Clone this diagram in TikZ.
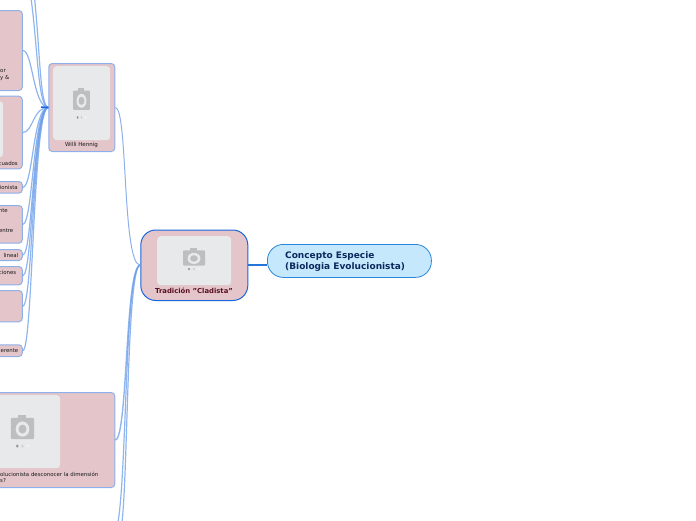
\documentclass[tikz,border=0pt]{standalone}
\usepackage{fontspec}
\setmainfont{DejaVu Sans}
\usepackage{tikz}

\definecolor{rosebox}{HTML}{E3C5CA}
\definecolor{panelgrey}{HTML}{E8E9EB}
\definecolor{camgrey}{HTML}{BDBEBF}
\definecolor{edgeblue}{HTML}{8DB0EA}
\definecolor{linkblue}{HTML}{1A66DC}
\definecolor{rootline}{HTML}{2A86D8}
\definecolor{rootblue}{HTML}{C5E8FC}
\definecolor{rootink}{HTML}{0A2A5E}
\definecolor{cladink}{HTML}{5A1020}

\tikzset{
    topicbox/.style={draw=edgeblue, fill=rosebox, line width=1pt, rounded corners=3.5pt, inner sep=0pt, anchor=north west},
    mainbox/.style={draw=linkblue, fill=rosebox, line width=1pt, rounded corners=15pt, inner sep=0pt, anchor=north west},
    rootbox/.style={draw=rootline, fill=rootblue, line width=0.8pt, rounded corners=16pt, inner sep=0pt, anchor=north west},
    panel/.style={fill=panelgrey, rounded corners=3.5pt, inner sep=0pt, anchor=north west},
    tinylabel/.style={font=\fontsize{5.4}{6.5}\selectfont, text=black!90, inner sep=0pt},
    branch/.style={edgeblue, line width=1pt},
    hublink/.style={draw=linkblue!65!white, line width=1.2pt, opacity=0.75}
}

% camera icon, #1 = centre, #2 = xscale, #3 = yscale, #4 = dots offset
\newcommand{\camicon}[4]{
    \begin{scope}[shift={#1}, xscale=#2, yscale=#3]
        \fill[camgrey, rounded corners=1pt] (-11,-9) rectangle (11,9);
        \fill[camgrey] (-4,-11.5) rectangle (3,-8);
        \fill[panelgrey] (0,0.5) circle (6.5);
        \fill[camgrey] (0,0.5) circle (3.8);
        \fill[camgrey!80!black] (-5,#4) circle (1.4);
        \fill[camgrey!70!white] (0,#4) circle (1.4);
        \fill[camgrey!20!white] (5,#4) circle (1.4);
    \end{scope}
}

\begin{document}
\begin{tikzpicture}[x=1pt, y=-1pt]
    \useasboundingbox (0,0) rectangle (696,520);
    \clip (0,0) rectangle (696,520);

    % Nodes
    \node[rootbox, minimum width=164pt, minimum height=33pt] (root) at (267,244) {};
    \node[mainbox, minimum width=107pt, minimum height=70.5pt] (cladista) at (140.3,229.5) {};
    \node[topicbox, minimum width=66pt, minimum height=88pt] (willi) at (48.3,63) {};
    \node[topicbox, minimum width=180pt, minimum height=95pt] (dimension) at (-65.7,392) {};
    \node[topicbox, minimum width=61.8pt, minimum height=80pt] (topa) at (-40,10) {};
    \node[topicbox, minimum width=61.8pt, minimum height=72.6pt] (topb) at (-40,95.7) {};
    \node[topicbox, minimum width=61.8pt, minimum height=11.7pt] (topc) at (-40,181) {};
    \node[topicbox, minimum width=61.8pt, minimum height=37.7pt] (topd) at (-40,205) {};
    \node[topicbox, minimum width=61.8pt, minimum height=11pt] (tope) at (-40,249) {};
    \node[topicbox, minimum width=61.8pt, minimum height=18.3pt] (topf) at (-40,266) {};
    \node[topicbox, minimum width=61.8pt, minimum height=31.3pt] (topg) at (-40,290) {};
    \node[topicbox, minimum width=61.8pt, minimum height=11.7pt] (toph) at (-40,344.3) {};

    % Free ends
    \coordinate (upa) at (31,-2);
    \coordinate (upb) at (34.5,-2);
    \coordinate (downa) at (118,522);
    \coordinate (downb) at (122,522);
    \coordinate (bend) at (33,107);

    % Edges
    \draw[line width=2pt, rootline!50!linkblue] (cladista.east) -- (root.west |- cladista.east);
    \draw[branch] (cladista.west) .. controls (122,265) and (128,107) .. (willi.east);
    \draw[hublink, line width=1.4pt] (cladista.west) .. controls (125,265) and (128,439) .. (dimension.east);
    \draw[hublink] (cladista.west) .. controls (127,265) and (128,470) .. (downb);
    \draw[hublink] (cladista.west) .. controls (125,265) and (127,470) .. (downa);
    \draw[hublink] (willi.west) .. controls (38,107) and (38,50) .. (upa);
    \draw[hublink] (willi.west) .. controls (40,107) and (40,50) .. (upb);
    \foreach \target in {topa, topb, topc, topd, tope, topf, topg, toph} {
        \draw[hublink] (willi.west) .. controls (bend) and (bend |- \target.east) .. (\target.east);
    }
    \draw[linkblue, line width=1.5pt] (41,107) -- (willi.west);

    % Image panels
    \node[panel, minimum width=57pt, minimum height=74pt] (panelw) at (53,66) {};
    \node[panel, minimum width=74pt, minimum height=49pt] (panelc) at (157,236) {};
    \node[panel, minimum width=75pt, minimum height=73pt] (paneld) at (-15,395) {};
    \node[panel, minimum width=10pt, minimum height=56pt] (panelb) at (-7,101) {};
    \camicon{(81.5,100.3)}{0.77}{1.07}{16}
    \camicon{(194,258)}{1}{0.85}{13}
    \camicon{(22.5,428.5)}{1.05}{1.17}{15}

    % Labels
    \node[tinylabel, font=\fontsize{5.5}{6.5}\selectfont] (lblwilli) at (81.5,145) {Willi Hennig};
    \node[font=\fontsize{6.85}{8}\selectfont\bfseries, text=cladink, inner sep=0pt] (lblclad) at (194,290.5) {Tradición "Cladista"};
    \node[font=\fontsize{9}{11}\selectfont\bfseries, text=rootink, align=left, inner sep=0pt, anchor=west] (lblroot) at (285,261.8) {Concepto Especie\\(Biologia Evolucionista)};
    \node[tinylabel, anchor=east] (lbldim) at (98.5,474) {olucionista desconocer la dimensión};
    \node[tinylabel, anchor=west] (lbldimb) at (0,481) {s?};
    \node[tinylabel, anchor=west] (lbla) at (0,71) {or};
    \node[tinylabel, anchor=west] (lblaa) at (0,78) {y \&};
    \node[tinylabel, anchor=east] (lblb) at (18,163) {cuados};
    \node[tinylabel, anchor=east] (lblc) at (18,187) {ionista};
    \node[tinylabel, anchor=east] (lbld) at (8,211) {nte};
    \node[tinylabel, anchor=east] (lbldd) at (13.5,231) {entre};
    \node[tinylabel, anchor=east] (lble) at (18.5,255) {lineal};
    \node[tinylabel, anchor=east] (lblf) at (16.5,272) {ciones};
    \node[tinylabel, anchor=east] (lblh) at (18.5,351) {erente};
\end{tikzpicture}
\end{document}
